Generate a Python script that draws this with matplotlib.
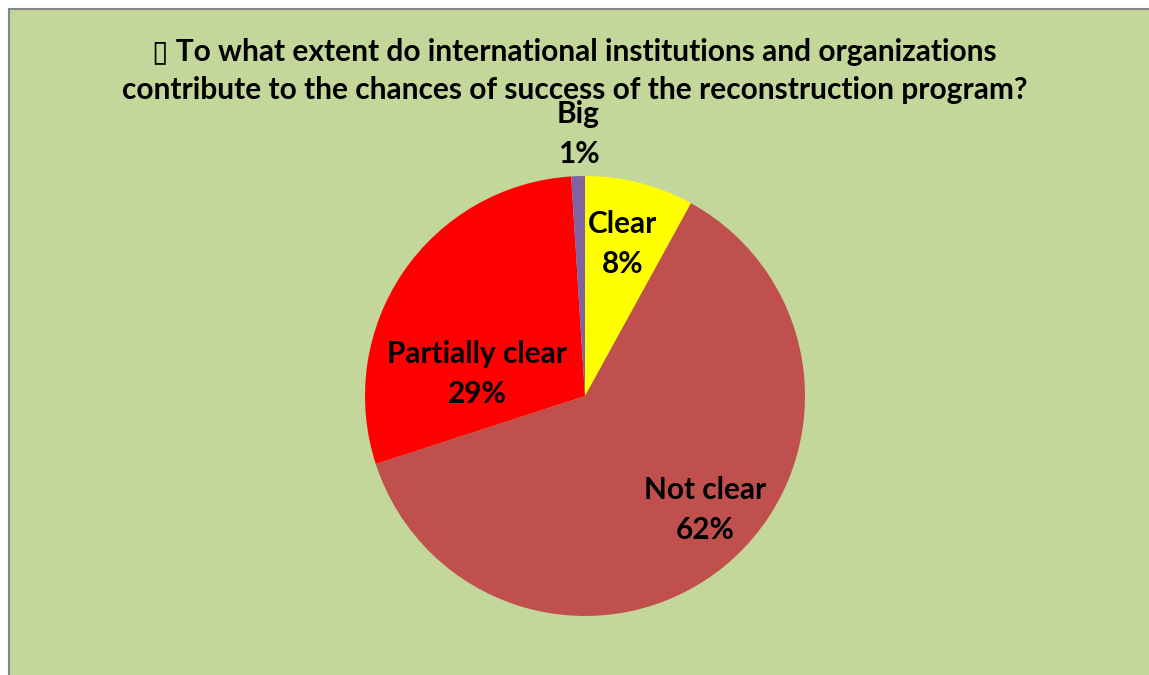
import matplotlib.pyplot as plt
from matplotlib.patches import Rectangle

categories = ['Clear', 'Not clear', 'Partially clear', 'Big']
shares = [8, 62, 29, 1]
colors = ['#FFFF00', '#C0504D', '#FF0000', '#8064A2']
title = ('\u25af To what extent do international institutions and organizations\n'
         'contribute to the chances of success of the reconstruction program?')

# label spots inside the pie axes (radius = 1)
label_xy = [(0.17, 0.69), (0.545, -0.52), (-0.49, 0.10), (-0.03, 1.19)]

W, H = 1149, 675
fig = plt.figure(figsize=(W / 100, H / 100), dpi=100)
fig.patch.set_facecolor('white')

# chart area with grey frame
fig.patches.append(Rectangle((9 / W, -0.1), 1.2, (H - 9) / H + 0.1,
                             transform=fig.transFigure, facecolor='#C4D79B',
                             edgecolor='#868686', linewidth=1.5, zorder=-10))

cx, cy, r = 585, 396, 220
ax = fig.add_axes([(cx - r) / W, (H - cy - r) / H, 2 * r / W, 2 * r / H])

ax.pie(shares, colors=colors, startangle=90, counterclock=False, radius=1,
       wedgeprops=dict(linewidth=0))
ax.set_xlim(-1, 1)
ax.set_ylim(-1, 1)
ax.set_aspect('equal')
ax.axis('off')

for cat, val, (x, y) in zip(categories, shares, label_xy):
    ax.text(x, y, f'{cat}\n{val}%', ha='center', va='center', fontsize=21.4,
            fontweight='bold', family='Lato', linespacing=1.52, clip_on=False)

fig.text(0.5, (H - 71) / H, title, ha='center', va='center', fontsize=21.5,
         fontweight='bold', family=['Lato', 'DejaVu Sans'], linespacing=1.45)

fig.savefig('out.png', dpi=100)
